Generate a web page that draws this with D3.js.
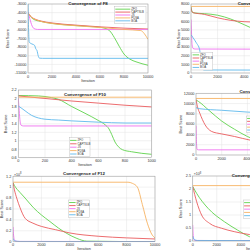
<!DOCTYPE html>
<html>
<head>
<meta charset="utf-8">
<script src="https://cdn.jsdelivr.net/npm/d3@7"></script>
<style>
  body { margin: 0; background: #fff; }
  svg { display: block; }
  text { font-family: "Liberation Sans", Arial, sans-serif; }
</style>
</head>
<body>
<svg width="250" height="250"></svg>
<script>
// algorithms, in legend order
const algos = ["ZFO", "CAPTSLB", "JS", "PDSA", "BOA"];
const colors = ["#5fd34c", "#ea5b5d", "#ef72ef", "#f6b262", "#5fb9ec"];

// F8 : [iteration, best score]
const f8 = [
  [[0,-4000],[200,-4450],[500,-4800],[1000,-5000],[2000,-5250],[3000,-5400],[4000,-5500],[5000,-5600],[6000,-5700],[6500,-5850],[6800,-6100],[7200,-6900],[7600,-7900],[8000,-8800],[8500,-9400],[9000,-9700],[10000,-10100]],
  [[0,-4000],[200,-4400],[500,-4700],[1000,-4950],[2000,-5200],[4000,-5450],[6000,-5650],[8000,-5800],[10000,-5900]],
  [[0,-3900],[150,-4700],[300,-5400],[500,-5850],[800,-5950],[10000,-5950]],
  [[0,-4000],[200,-4420],[1000,-4980],[2000,-5260],[4000,-5520],[6000,-5720],[8000,-5950],[9400,-6080],[9700,-6450],[10000,-7100]],
  [[0,-3000],[50,-6000],[100,-7400],[200,-7550],[450,-7700],[550,-7800],[650,-8200],[750,-8400],[850,-9000],[950,-9280],[1200,-9300],[10000,-9300]]
];

// F9
const f9 = [
  [[0,7650],[100,7050],[300,6950],[1000,6880],[2000,6700],[3000,6250],[4000,5600],[5000,4900],[6000,4300],[8000,3600],[10000,3200]],
  [[0,7600],[50,7200],[150,7000],[1000,6800],[2000,6400],[3000,6100],[4000,5950],[6000,5850],[10000,5700]],
  [[0,6200],[30,5000],[80,3300],[150,2850],[300,2780],[10000,2750]],
  [[0,7720],[10000,7720]],
  [[0,4450],[150,4100],[400,3500],[650,2700],[750,1500],[830,600],[950,350],[10000,330]]
];

// F10
const f10 = [
  [[0,2.07],[150,2.06],[250,2.02],[300,1.98],[400,1.81],[500,1.65],[600,1.48],[650,1.38],[680,1.28],[700,1.15],[725,0.97],[750,0.86],[780,0.79],[850,0.74],[1000,0.68]],
  [[0,2.06],[200,2.0],[400,1.94],[600,1.89],[800,1.84],[1000,1.8]],
  [[0,2.0],[5,1.8],[12,1.5],[20,1.37],[40,1.35],[1000,1.35]],
  [[0,2.03],[1000,2.03]],
  [[0,1.82],[20,1.78],[50,1.71],[100,1.6],[150,1.54],[200,1.51],[300,1.49],[400,1.47],[600,1.44],[800,1.42],[1000,1.42]]
];

// F11
const f11 = [
  [[0,10700],[200,10400],[1000,8700],[2000,6600],[3000,5000],[4000,3600],[5000,2600],[6000,2000],[8000,1400],[10000,1100]],
  [[0,10800],[100,9500],[300,8100],[700,5900],[1200,4600],[2000,4100],[3000,3600],[4200,2900],[6000,2400],[10000,2000]],
  [[0,5700],[30,3000],[80,1100],[200,1000],[10000,1000]],
  [[0,11000],[10000,11000]],
  [[0,9200],[300,9000],[2000,8700],[4000,8350],[6000,8100],[10000,7800]]
];

// F12 (x 1e8)
const f12 = [
  [[0,1.08],[100,1.03],[500,0.9],[850,0.8],[1450,0.62],[2000,0.49],[2600,0.37],[3200,0.25],[3800,0.15],[4500,0.06],[5200,0.01],[10000,0.0]],
  [[0,1.08],[100,0.95],[260,0.8],[500,0.62],[850,0.43],[1400,0.34],[2000,0.28],[3000,0.22],[4000,0.16],[6000,0.1],[8000,0.07],[10000,0.05]],
  [[0,0.27],[40,0.12],[100,0.03],[300,0.005],[10000,0.003]],
  [[0,1.09],[8100,1.09],[8400,1.07],[8760,1.0],[9110,0.68],[9460,0.34],[9810,0.12],[10000,0.07]],
  [[0,0.06],[50,0.03],[150,0.01],[500,0.004],[10000,0.002]]
];

// F13 (x 1e8)
const f13 = [
  [[0,2.1],[330,1.83],[1270,1.26],[2640,0.74],[3730,0.42],[4700,0.17],[5500,0.05],[10000,0.01]],
  [[0,2.1],[330,1.51],[740,1.0],[1400,0.68],[2400,0.49],[3450,0.36],[4700,0.25],[6000,0.2],[10000,0.12]],
  [[0,0.62],[30,0.3],[80,0.08],[200,0.02],[10000,0.01]],
  [[0,2.13],[10000,2.13]],
  [[0,0.19],[50,0.12],[150,0.05],[400,0.02],[10000,0.01]]
];

// tick labels
const ticks10k = [0, 2000, 4000, 6000, 8000, 10000];
const ticks1k = [0, 200, 400, 600, 800, 1000];
const f8Ticks = [-11000,-10000,-9000,-8000,-7000,-6000,-5000,-4000,-3000];
const f9Ticks = [0,1000,2000,3000,4000,5000,6000,7000,8000];
const f10Ticks = [0.6,0.8,1,1.2,1.4,1.6,1.8,2,2.2];
const f11Ticks = [0,2000,4000,6000,8000,10000,12000];
const f12Ticks = [0,0.2,0.4,0.6,0.8,1,1.2];
const f13Ticks = [0,0.5,1,1.5,2,2.5];

// panel layout (pixel boxes of the cropped composite)
const panels = [
  { title: "Convergence of F8", data: f8, xr: [28, 148], yr: [73, 4], xd: [0, 10000], yd: [-11000, -3000],
    xt: ticks10k, yt: f8Ticks, ylabX: 9, titleY: 4.8,
    leg: { x: 114.5, y: 6.7, w: 31.5, h: 16.6, s: 15 } },
  { title: "Convergence of F9", data: f9, xr: [191, 324], yr: [73, 4], xd: [0, 10000], yd: [0, 8000],
    xt: ticks10k, yt: f9Ticks, ylabX: 180, titleY: 4.8,
    leg: { x: 191.8, y: 52.3, w: 21, h: 17.7, s: 6.5 } },
  { title: "Convergence of F10", data: f10, xr: [18.3, 151.7], yr: [157.7, 90], xd: [0, 1000], yd: [0.6, 2.2],
    xt: ticks1k, yt: f10Ticks, ylabX: 7, titleY: 96.3,
    leg: { x: 69.3, y: 137.7, w: 20.7, h: 19, s: 6.5 } },
  { title: "Convergence of F11", data: f11, xr: [196, 324.5], yr: [155, 93.3], xd: [0, 10000], yd: [0, 12000],
    xt: ticks10k, yt: f11Ticks, ylabX: 181.7, titleY: 93,
    leg: { x: 246.3, y: 116, w: 21, h: 16.5, s: 6.5 } },
  { title: "Convergence of F12", data: f12, xr: [13, 155], yr: [241.7, 176.2], xd: [0, 10000], yd: [0, 1.2],
    xt: ticks10k, yt: f12Ticks, ylabX: 3, titleY: 175, expo: "8",
    leg: { x: 68.3, y: 200, w: 21, h: 17.3, s: 6.5 } },
  { title: "Convergence of F13", data: f13, xr: [192.7, 313], yr: [241, 176], xd: [0, 10000], yd: [0, 2.5],
    xt: ticks10k, yt: f13Ticks, ylabX: 181.7, titleY: 176.5, expo: "8",
    leg: { x: 243.3, y: 200, w: 21, h: 18.3, s: 6.5 } }
];

const svg = d3.select("svg");
svg.append("rect").attr("width", 250).attr("height", 250).attr("fill", "#fff");

panels.forEach((p, i) => {
  const g = svg.append("g");
  const x = d3.scaleLinear().domain(p.xd).range(p.xr);
  const y = d3.scaleLinear().domain(p.yd).range(p.yr);
  const [x0, x1] = p.xr;
  const [yb, yt] = p.yr;

  const clipId = "clip" + i;
  g.append("clipPath").attr("id", clipId)
    .append("rect").attr("x", x0).attr("y", yt).attr("width", x1 - x0).attr("height", yb - yt);

  // grid
  g.selectAll(".gx").data(p.xt).enter().append("line")
    .attr("x1", d => x(d)).attr("x2", d => x(d)).attr("y1", yt).attr("y2", yb)
    .attr("stroke", "#e3e3e3").attr("stroke-width", 0.5);
  g.selectAll(".gy").data(p.yt).enter().append("line")
    .attr("x1", x0).attr("x2", x1).attr("y1", d => y(d)).attr("y2", d => y(d))
    .attr("stroke", "#e3e3e3").attr("stroke-width", 0.5);

  // series
  const line = d3.line().x(d => x(d[0])).y(d => y(d[1])).curve(d3.curveMonotoneX);
  g.append("g").attr("clip-path", `url(#${clipId})`)
    .selectAll("path").data(p.data).enter().append("path")
    .attr("d", line)
    .attr("fill", "none")
    .attr("stroke", (d, k) => colors[k])
    .attr("stroke-width", 0.9);

  // box
  g.append("rect").attr("x", x0).attr("y", yt).attr("width", x1 - x0).attr("height", yb - yt)
    .attr("fill", "none").attr("stroke", "#9a9a9a").attr("stroke-width", 0.5);

  // tick labels
  const fmt = v => (Math.round(v * 10) / 10).toString();
  g.selectAll(".ty").data(p.yt).enter().append("text")
    .attr("x", x0 - 1.6).attr("y", d => y(d) + 1.3)
    .attr("text-anchor", "end").attr("font-size", 3.8).attr("fill", "#333")
    .text(fmt);
  g.selectAll(".tx").data(p.xt).enter().append("text")
    .attr("x", d => x(d)).attr("y", yb + 4.6)
    .attr("text-anchor", "middle").attr("font-size", 3.8).attr("fill", "#333")
    .text(d => d);

  if (p.expo) {
    const e = g.append("text").attr("x", x0 + 1).attr("y", yt - 0.6)
      .attr("font-size", 3.6).attr("fill", "#333");
    e.append("tspan").text("\u00d710");
    e.append("tspan").attr("dy", -1.4).attr("font-size", 2.6).text(p.expo);
  }

  // axis labels and title
  g.append("text")
    .attr("transform", `translate(${p.ylabX},${(yt + yb) / 2}) rotate(-90)`)
    .attr("text-anchor", "middle").attr("font-size", 3.8).attr("fill", "#333")
    .text("Best Score");
  g.append("text").attr("x", (x0 + x1) / 2).attr("y", yb + 8.6)
    .attr("text-anchor", "middle").attr("font-size", 3.8).attr("fill", "#333")
    .text("Iteration");
  g.append("text").attr("x", (x0 + x1) / 2).attr("y", p.titleY)
    .attr("text-anchor", "middle").attr("font-size", 4.4).attr("font-weight", "bold").attr("fill", "#222")
    .text(p.title);

  // legend
  const L = p.leg;
  const lg = g.append("g");
  lg.append("rect").attr("x", L.x).attr("y", L.y).attr("width", L.w).attr("height", L.h)
    .attr("fill", "#fff").attr("stroke", "#b5b5b5").attr("stroke-width", 0.4);
  const step = (L.h - 2) / algos.length;
  algos.forEach((a, k) => {
    const cy = L.y + 1 + step * (k + 0.5);
    lg.append("line").attr("x1", L.x + 0.8).attr("x2", L.x + 0.8 + L.s)
      .attr("y1", cy).attr("y2", cy).attr("stroke", colors[k]).attr("stroke-width", 0.9);
    lg.append("text").attr("x", L.x + 1.8 + L.s).attr("y", cy + 0.9)
      .attr("font-size", Math.min(2.8, step * 0.95)).attr("fill", "#333").text(a);
  });
});
</script>
</body>
</html>
